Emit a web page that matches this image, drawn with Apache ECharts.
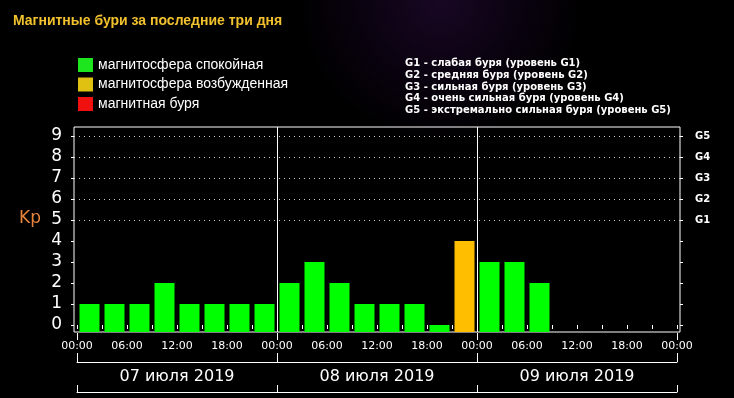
<!DOCTYPE html>
<html><head><meta charset="utf-8">
<script src="https://cdn.jsdelivr.net/npm/echarts@6/dist/echarts.min.js"></script>
<style>html,body{margin:0;padding:0;background:#000;}#c{width:734px;height:398px;}</style>
</head><body><div id="c"></div>
<script>
// ---- data ----
const titleText = 'Магнитные бури за последние три дня';
const dayLabels = ['07 июля 2019', '08 июля 2019', '09 июля 2019'];
const dayBoundaries = [24, 48];
const hourLabelValues = [0, 6, 12, 18, 24, 30, 36, 42, 48, 54, 60, 66, 72];
const hourTickValues = [0, 3, 6, 9, 12, 15, 18, 21, 24, 27, 30, 33, 36, 39, 42, 45, 48, 51, 54, 57, 60, 63, 66, 69, 72];
// Kp per 3-hour slot (null = no data yet)
const kpValues = [1, 1, 1, 2, 1, 1, 1, 1,
                  2, 3, 2, 1, 1, 1, 0, 4,
                  3, 3, 2, null, null, null, null, null];
const kpTicks = [0, 1, 2, 3, 4, 5, 6, 7, 8, 9];
const gLevels = [5, 6, 7, 8, 9];
const gLabels = ['G1', 'G2', 'G3', 'G4', 'G5'];
const legendNames = ['магнитосфера спокойная', 'магнитосфера возбужденная', 'магнитная буря'];
const gLegendLines = [
  'G1 - слабая буря (уровень G1)',
  'G2 - средняя буря (уровень G2)',
  'G3 - сильная буря (уровень G3)',
  'G4 - очень сильная буря (уровень G4)',
  'G5 - экстремально сильная буря (уровень G5)'
];

// ---- build ----
const SLOT = 3;
function pick(test) {
  const out = [];
  kpValues.forEach((v, i) => { if (v !== null && test(v)) out.push([i * SLOT + SLOT / 2, v]); });
  return out;
}
const greenData = pick(v => v < 4);
const orangeData = pick(v => v >= 4 && v < 5);
const redData = pick(v => v >= 5);
const pad = n => (n < 10 ? '0' : '') + n;
const yMin = -1 / 3, yMax = 66 / 7;

const chart = echarts.init(document.getElementById('c'), null, { renderer: 'canvas' });
const barCommon = { type: 'bar', xAxisIndex: 0, yAxisIndex: 0, barWidth: 20, barGap: '-100%', animation: false };
chart.setOption({
  animation: false,
  backgroundColor: {
    type: 'radial', x: 0.6, y: 0, r: 0.36,
    colorStops: [{ offset: 0, color: '#190724' }, { offset: 0.6, color: '#09020e' }, { offset: 1, color: '#000000' }]
  },
  title: [
    { text: titleText, left: 13, top: 14, padding: 0,
      textStyle: { color: '#f2c12e', fontSize: 14, fontWeight: 'bold', fontFamily: 'Liberation Sans' } },
    { text: 'Kp', left: 19, top: 210, padding: 0,
      textStyle: { color: '#e8833a', fontSize: 17, fontWeight: 'normal', fontFamily: 'DejaVu Sans' } },
    { text: gLegendLines.join('\n'), left: 405, top: 58, padding: 0,
      textStyle: { color: '#ffffff', fontSize: 10, fontWeight: 'bold', lineHeight: 11.6, fontFamily: 'DejaVu Sans' } }
  ],
  legend: {
    orient: 'vertical', left: 78, top: 58, itemWidth: 15, itemHeight: 14, itemGap: 5.5,
    icon: 'rect', selectedMode: false, padding: 0,
    textStyle: { color: '#ffffff', fontSize: 14, fontFamily: 'Liberation Sans' },
    data: [
      { name: legendNames[0], itemStyle: { color: '#1ee61e' } },
      { name: legendNames[1], itemStyle: { color: '#e0c010' } },
      { name: legendNames[2], itemStyle: { color: '#f01010' } }
    ]
  },
  grid: [
    { left: 77, right: 57, top: 127, bottom: 66 },
    { left: 74, right: 54, top: 127, bottom: 66, show: true, borderColor: '#ffffff', borderWidth: 1, backgroundColor: 'transparent' },
    { left: 74, right: 54, top: 136, bottom: 178 }
  ],
  xAxis: [
    { gridIndex: 0, type: 'value', min: 0, max: 72, z: 5,
      axisLine: { show: false },
      axisTick: { show: true, customValues: hourTickValues, length: 4, lineStyle: { color: '#ffffff' } },
      axisLabel: { customValues: hourLabelValues, formatter: v => pad(v % 24) + ':00',
        color: '#ffffff', fontSize: 11, fontFamily: 'DejaVu Sans', margin: 8, backgroundColor: '#000000', padding: [1, 1] },
      splitLine: { show: false } },
    { gridIndex: 0, type: 'category', data: dayLabels, position: 'bottom', offset: 30, boundaryGap: true, z: 1,
      axisLine: { show: true, lineStyle: { color: '#ffffff', width: 1 } },
      axisTick: { show: true, inside: true, length: 29, interval: 0, lineStyle: { color: '#ffffff' } },
      axisLabel: { color: '#ffffff', fontSize: 16, fontFamily: 'DejaVu Sans', margin: 7, interval: 0 },
      splitLine: { show: false } },
    { gridIndex: 0, type: 'category', data: dayLabels, position: 'bottom', offset: 60, boundaryGap: true, z: 1,
      axisLine: { show: true, lineStyle: { color: '#ffffff', width: 1 } },
      axisTick: { show: true, inside: true, length: 7, interval: 0, lineStyle: { color: '#ffffff' } },
      axisLabel: { show: false }, splitLine: { show: false } },
    { gridIndex: 1, type: 'value', min: 0, max: 1, show: false },
    { gridIndex: 2, type: 'value', min: 0, max: 1, show: false }
  ],
  yAxis: [
    { gridIndex: 0, type: 'value', min: yMin, max: yMax, startValue: yMin, show: false },
    { gridIndex: 1, type: 'value', position: 'left', min: yMin, max: yMax,
      axisLine: { show: false },
      axisTick: { show: true, customValues: kpTicks, length: 3, lineStyle: { color: '#ffffff' } },
      axisLabel: { customValues: kpTicks, color: '#ffffff', fontSize: 17, fontFamily: 'DejaVu Sans', margin: 12, padding: [4, 0, 0, 0] },
      splitLine: { show: false } },
    { gridIndex: 1, type: 'value', position: 'right', min: yMin, max: yMax,
      axisLine: { show: false },
      axisTick: { show: true, customValues: kpTicks, length: 3, lineStyle: { color: '#ffffff' } },
      axisLabel: { customValues: gLevels, formatter: v => gLabels[gLevels.indexOf(v)],
        color: '#ffffff', fontSize: 10, fontWeight: 'bold', fontFamily: 'DejaVu Sans', margin: 15 },
      splitLine: { show: false } },
    { gridIndex: 2, type: 'value', min: gLevels[0], max: gLevels[gLevels.length - 1], interval: 1,
      axisLine: { show: false }, axisTick: { show: false }, axisLabel: { show: false },
      splitLine: { show: true, lineStyle: { color: '#cfcfcf', type: [1, 4], width: 1 } } }
  ],
  series: [
    Object.assign({}, barCommon, { name: legendNames[0], data: greenData, itemStyle: { color: '#00ff00' },
      markLine: { silent: true, symbol: ['none', 'none'], label: { show: false }, animation: false,
        lineStyle: { color: '#ffffff', type: 'solid', width: 1 },
        data: dayBoundaries.map(h => ({ xAxis: h })) } }),
    Object.assign({}, barCommon, { name: legendNames[1], data: orangeData, itemStyle: { color: '#ffbf00' } }),
    Object.assign({}, barCommon, { name: legendNames[2], data: redData, itemStyle: { color: '#ff0000' } })
  ]
});
</script></body></html>
